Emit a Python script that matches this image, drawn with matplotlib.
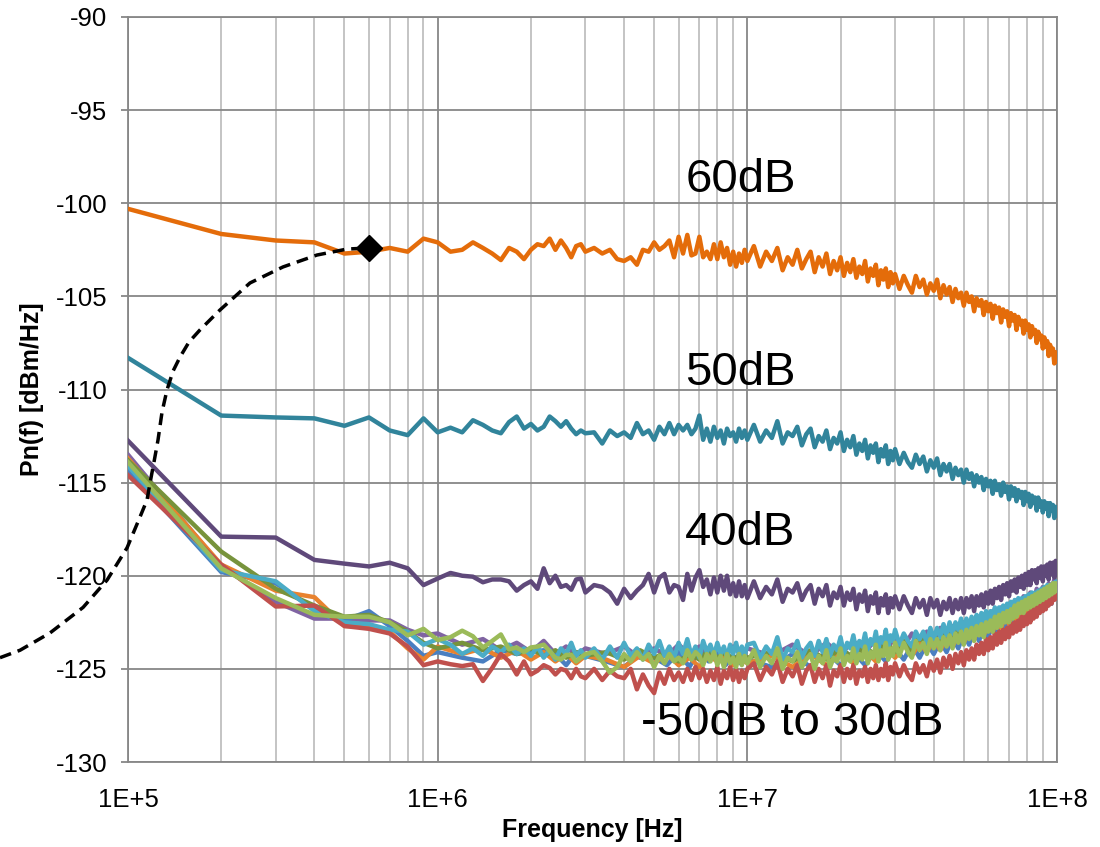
import numpy as np
import matplotlib
matplotlib.use("Agg")
import matplotlib.pyplot as plt
from matplotlib.ticker import FixedLocator, NullFormatter, FixedFormatter

plt.rcParams['font.family'] = ['Liberation Sans', 'DejaVu Sans']

# ---------------- frequency grids (Hz) ----------------
segA = np.arange(1, 11) * 1e5           # 1e5 .. 1e6
segB = np.arange(11, 31) * 1e5          # 1.1e6 .. 3e6
segC = np.arange(32, 101, 2) * 1e5      # 3.2e6 .. 1e7
segD1 = np.arange(105, 301, 5) * 1e5    # 1.05e7 .. 3e7
segD2 = np.arange(31, 101) * 1e6        # 3.1e7 .. 1e8
freq_fine = np.concatenate([segA, segB, segC, segD1, segD2])

cB = np.arange(12, 31, 2) * 1e5
cC = np.arange(35, 101, 5) * 1e5
cD = np.arange(12, 101, 2) * 1e6
freq_coarse = np.concatenate([segA, cB, cC, cD])

# ---------------- series (dBm/Hz) ----------------
pn_60dB = [
    -100.3, -101.65, -102.0, -102.1, -102.7, -102.6, -102.4, -102.6, -101.9, -102.1,
    -102.6, -102.5, -102.1, -102.4, -102.7, -103.05, -102.4, -102.6, -103.0, -102.5,
    -102.2, -102.3, -101.9, -102.5, -102.0, -102.4, -102.9, -102.3, -102.2, -102.6,
    -102.4, -102.7, -102.5, -103.0, -103.1, -102.9, -103.3, -102.5, -102.6, -102.1,
    -102.5, -102.3, -102.0, -102.9, -101.8, -102.7, -101.7, -102.8, -102.7, -101.8,
    -102.9, -102.6, -103.0, -102.2, -103.0, -102.1, -102.9, -102.4, -103.3, -102.6,
    -103.4, -102.7, -103.2, -102.5, -103.1,
    -102.3, -103.4, -102.6, -103.1, -102.4, -103.6, -102.9, -103.3, -102.5, -103.5,
    -103.0, -102.6, -103.7, -102.9, -103.4, -102.7, -103.8, -103.1, -103.6, -102.9,
    -103.9, -103.2, -103.7, -103.0, -104.0, -103.4, -103.8, -103.1, -104.2, -103.5,
    -103.9, -103.3, -104.4, -103.6, -104.1, -103.5, -104.5, -103.7, -104.3, -103.8,
    -104.6, -103.9, -104.4, -104.8, -103.9, -104.5, -104.1, -104.9, -104.3, -104.7,
    -104.1, -105.1, -104.4, -104.9, -104.5, -105.3, -104.6, -105.1, -104.8, -105.5,
    -104.8, -105.3, -105.0, -105.8, -105.1, -105.5, -105.2, -106.0, -105.3, -105.8,
    -105.4, -106.2, -105.5, -105.9, -105.6, -106.4, -105.7, -106.1, -105.8, -106.6,
    -105.9, -106.3, -106.0, -106.8, -106.1, -106.5, -106.3, -107.0, -106.3, -106.8,
    -106.5, -107.2, -106.6, -107.0, -106.8, -107.5, -106.9, -107.3, -107.1, -107.8,
    -107.2, -107.7, -107.4, -108.2, -107.6, -108.1, -107.8, -108.6, -108.0, -108.5,
]

pn_50dB = [
    -108.3, -111.4, -111.5, -111.55, -111.95, -111.5, -112.2, -112.45, -111.55, -112.3,
    -112.05, -112.3, -111.65, -111.9, -112.2, -112.35, -111.75, -111.45, -112.1, -111.85,
    -112.2, -112.0, -111.45, -111.7, -112.0, -111.7, -112.1, -112.4, -112.2, -112.35,
    -112.3, -112.9, -112.2, -112.5, -112.3, -112.6, -111.8, -112.4, -112.2, -112.7,
    -112.0, -112.4, -111.8, -112.4, -111.9, -112.2, -111.9, -112.4, -112.1, -111.4,
    -112.7, -112.1, -112.8, -112.0, -112.6, -112.2, -112.9, -112.1, -112.5, -112.3,
    -112.8, -112.1, -112.6, -112.2, -112.7,
    -111.9, -112.8, -112.2, -112.6, -111.7, -112.9, -112.3, -112.5, -112.0, -113.0,
    -112.4, -112.1, -113.1, -112.5, -112.8, -112.2, -113.2, -112.6, -112.9, -112.3,
    -113.3, -112.7, -113.1, -112.5, -113.5, -112.9, -113.3, -112.7, -113.7, -113.0,
    -113.4, -112.9, -113.9, -113.2, -113.6, -113.0, -114.0, -113.3, -113.8, -113.2,
    -114.0, -113.4, -113.9, -114.2, -113.5, -114.0, -113.6, -114.4, -113.8, -114.2,
    -113.7, -114.6, -114.0, -114.4, -114.0, -114.8, -114.2, -114.6, -114.3, -115.0,
    -114.3, -114.8, -114.5, -115.2, -114.6, -115.0, -114.7, -115.4, -114.8, -115.2,
    -114.9, -115.6, -114.9, -115.4, -115.1, -115.7, -115.0, -115.5, -115.2, -115.9,
    -115.2, -115.7, -115.3, -116.0, -115.4, -115.8, -115.5, -116.2, -115.5, -116.0,
    -115.6, -116.3, -115.7, -116.1, -115.8, -116.5, -115.8, -116.3, -116.0, -116.6,
    -116.0, -116.4, -116.1, -116.8, -116.1, -116.5, -116.2, -116.9, -116.3, -116.5,
]

pn_40dB = [
    -112.75, -117.9, -117.95, -119.15, -119.35, -119.5, -119.3, -119.6, -120.5, -120.15,
    -119.85, -120.0, -120.05, -120.35, -120.2, -120.2, -120.3, -120.8, -120.5, -120.3,
    -120.7, -119.6, -120.4, -120.0, -120.6, -120.5, -120.75, -120.2, -120.15, -120.9,
    -120.5, -120.6, -120.9, -121.5, -120.7, -121.2, -120.8, -120.5, -119.9, -120.9,
    -120.1, -119.9, -120.9, -120.5, -120.6, -121.3, -119.9, -120.8, -120.1, -119.7,
    -120.6, -120.2, -121.0, -120.1, -120.9, -120.0, -120.8, -120.0, -121.0, -120.4,
    -121.1, -120.3, -121.1, -120.5, -121.2,
    -120.3, -121.2, -120.6, -121.0, -120.2, -121.4, -120.7, -120.9, -120.4, -121.3,
    -120.8, -120.5, -121.5, -120.7, -121.1, -120.5, -121.6, -120.9, -121.2, -120.6,
    -121.6, -120.9, -121.3, -120.7, -121.8, -121.0, -121.4, -120.8, -121.9, -121.1,
    -121.5, -120.9, -122.0, -121.2, -121.6, -121.0, -122.0, -121.2, -121.7, -121.1,
    -121.8, -121.1, -121.6, -122.0, -121.2, -121.7, -121.3, -122.1, -121.2, -121.7,
    -121.3, -122.1, -121.4, -121.8, -121.2, -122.0, -121.3, -121.8, -121.2, -122.0,
    -121.2, -121.7, -121.1, -121.9, -121.1, -121.6, -121.0, -121.7, -120.9, -121.5,
    -120.8, -121.5, -120.7, -121.2, -120.6, -121.3, -120.5, -121.0, -120.4, -121.1,
    -120.3, -120.8, -120.2, -120.9, -120.1, -120.6, -120.0, -120.7, -119.9, -120.5,
    -119.8, -120.5, -119.7, -120.2, -119.7, -120.4, -119.6, -120.1, -119.5, -120.3,
    -119.5, -120.0, -119.4, -120.2, -119.3, -119.9, -119.3, -120.1, -119.2, -119.8,
]

# bottom cluster (-50 dB ... 30 dB), fine grid
pn_green = [
    -113.9, -119.6, -121.2, -122.1, -122.2, -122.2, -122.5, -123.2, -122.85, -123.45,
    -123.3, -122.95, -123.25, -123.85, -123.5, -123.15, -123.95, -123.85, -124.1, -123.85,
    -123.8, -123.7, -124.05, -124.4, -124.5, -124.25, -124.25, -124.6, -124.4, -124.2,
    -124.1, -124.6, -125.2, -124.9, -124.2, -124.6, -124.1, -124.5, -124.2, -124.9,
    -124.3, -124.7, -124.2, -124.6, -124.4, -124.7, -124.0, -124.5, -124.1, -124.3,
    -124.8, -124.2, -124.6, -124.1, -124.8, -124.3, -124.9, -124.2, -124.7, -124.4,
    -124.9, -124.2, -124.8, -124.3, -124.7,
    -124.0, -124.9, -124.3, -124.7, -123.9, -125.0, -124.4, -124.6, -124.1, -124.9,
    -124.5, -124.2, -125.0, -124.3, -124.7, -124.0, -124.9, -124.4, -124.6, -123.9,
    -124.8, -124.3, -124.6, -123.9, -124.7, -124.2, -124.5, -123.8, -124.7, -124.1,
    -124.4, -123.7, -124.6, -124.0, -124.3, -123.6, -124.5, -123.9, -124.3, -123.6,
    -124.3, -123.6, -124.1, -124.4, -123.5, -124.0, -123.6, -124.2, -123.4, -123.9,
    -123.4, -124.0, -123.3, -123.8, -123.2, -123.9, -123.1, -123.6, -123.0, -123.7,
    -122.9, -123.4, -122.8, -123.5, -122.7, -123.2, -122.6, -123.3, -122.5, -123.0,
    -122.4, -123.0, -122.2, -122.8, -122.1, -122.7, -122.0, -122.5, -121.9, -122.5,
    -121.8, -122.3, -121.6, -122.2, -121.5, -122.0, -121.4, -122.0, -121.3, -121.8,
    -121.2, -121.7, -121.1, -121.6, -121.0, -121.5, -120.9, -121.4, -120.8, -121.3,
    -120.7, -121.2, -120.6, -121.1, -120.5, -121.0, -120.4, -120.9, -120.4, -120.8,
]

pn_red = [
    -114.6, -119.4, -121.65, -121.6, -122.7, -122.85, -123.1, -123.8, -124.8, -124.6,
    -124.75, -124.85, -124.75, -125.65, -124.95, -124.2, -124.6, -125.3, -124.6, -125.3,
    -125.1, -124.8, -124.95, -125.3, -125.0, -125.1, -125.5, -125.0, -125.4, -125.5,
    -125.0, -125.6, -125.1, -125.4, -125.5, -125.0, -126.1, -125.3, -125.9, -126.3,
    -125.2, -125.8, -125.0, -125.6, -125.2, -125.7, -125.0, -125.6, -124.9, -125.5,
    -125.0, -125.7, -125.1, -125.6, -124.9, -125.8, -125.1, -125.5, -124.9, -125.6,
    -125.0, -125.7, -125.1, -125.5, -125.0,
    -124.7, -125.6, -124.9, -125.3, -124.6, -125.7, -125.0, -125.4, -124.8, -125.8,
    -125.1, -124.8, -125.7, -125.0, -125.5, -124.8, -125.9, -125.1, -125.4, -124.8,
    -125.7, -125.0, -125.5, -124.8, -125.8, -125.1, -125.4, -124.9, -125.7, -125.0,
    -125.5, -124.8, -125.6, -125.0, -125.4, -124.7, -125.6, -124.9, -125.3, -124.7,
    -125.4, -124.8, -125.3, -125.6, -124.7, -125.2, -124.8, -125.4, -124.6, -125.1,
    -124.5, -125.2, -124.4, -124.9, -124.3, -125.0, -124.2, -124.7, -124.1, -124.8,
    -124.0, -124.5, -123.9, -124.5, -123.7, -124.2, -123.6, -124.2, -123.4, -124.0,
    -123.3, -123.9, -123.1, -123.7, -123.0, -123.6, -122.9, -123.4, -122.8, -123.3,
    -122.6, -123.1, -122.5, -123.0, -122.4, -122.9, -122.2, -122.7, -122.1, -122.6,
    -122.0, -122.5, -121.8, -122.3, -121.7, -122.2, -121.6, -122.0, -121.4, -121.9,
    -121.3, -121.8, -121.2, -121.6, -121.0, -121.5, -120.9, -121.3, -120.8, -121.2,
]

pn_aqua = [
    -114.1, -119.7, -120.3, -121.9, -122.5, -122.6, -122.9, -123.0, -123.7, -123.4,
    -123.7, -124.2, -123.9, -124.3, -123.8, -124.1, -123.7, -124.2, -123.9, -124.3,
    -123.8, -124.4, -124.0, -124.5, -123.9, -124.2, -123.6, -124.3, -124.0, -124.4,
    -123.9, -124.5, -123.8, -124.4, -123.6, -124.3, -123.9, -124.5, -123.7, -124.2,
    -123.5, -124.3, -123.8, -124.4, -123.6, -124.2, -123.4, -124.3, -123.8, -124.4,
    -123.5, -124.1, -123.7, -124.3, -123.6, -124.2, -123.8, -124.4, -123.7, -124.2,
    -123.6, -124.3, -123.8, -124.3, -123.7,
    -123.6, -124.4, -123.8, -124.2, -123.3, -124.5, -123.9, -124.1, -123.5, -124.4,
    -123.9, -123.6, -124.3, -123.5, -124.1, -123.4, -124.3, -123.7, -124.0, -123.3,
    -124.2, -123.6, -123.9, -123.2, -124.1, -123.5, -123.8, -123.1, -124.0, -123.4,
    -123.7, -123.0, -123.9, -123.3, -123.6, -122.9, -123.8, -123.2, -123.5, -122.9,
    -123.7, -123.1, -123.5, -123.8, -123.0, -123.4, -123.0, -123.6, -122.8, -123.4,
    -122.8, -123.3, -122.6, -123.2, -122.5, -123.1, -122.5, -122.9, -122.3, -123.0,
    -122.3, -122.8, -122.2, -122.8, -122.1, -122.6, -122.0, -122.6, -121.9, -122.5,
    -121.9, -122.4, -121.7, -122.3, -121.7, -122.2, -121.6, -122.1, -121.5, -122.0,
    -121.4, -121.9, -121.3, -121.9, -121.2, -121.7, -121.2, -121.7, -121.1, -121.6,
    -121.0, -121.5, -120.9, -121.4, -120.9, -121.3, -120.8, -121.3, -120.7, -121.2,
    -120.6, -121.1, -120.5, -121.0, -120.5, -120.9, -120.4, -120.9, -120.3, -120.8,
]

# bottom cluster, coarse grid
pn_blue = [
    -114.3, -119.8, -120.4, -121.8, -122.4, -121.9, -122.7, -123.5, -124.3, -124.1,
    -124.4, -124.6, -124.0, -124.2, -124.1, -124.0, -124.2, -124.8, -124.1, -124.3,
    -124.6, -124.9, -124.2, -124.4, -124.8, -124.1, -124.9, -124.0, -124.6, -124.2,
    -124.8, -124.3, -124.7, -124.5,
    -124.9, -124.2, -124.9, -124.1, -124.8, -124.1, -124.8, -124.0, -124.6, -123.9,
    -124.5, -123.7, -124.4, -123.6, -124.2, -123.5, -124.1, -123.3, -123.9, -123.1,
    -123.7, -122.9, -123.5, -122.7, -123.3, -122.5, -123.1, -122.3, -122.9, -122.1,
    -122.7, -121.9, -122.5, -121.7, -122.3, -121.5, -122.1, -121.3, -121.9, -121.1,
    -121.7, -120.9, -121.5, -120.8, -121.1,
]

pn_orange = [
    -113.7, -119.4, -120.8, -121.15, -122.7, -122.7, -123.0, -123.9, -124.5, -123.8,
    -124.2, -123.9, -124.4, -124.0, -124.5, -124.1, -124.6, -124.2, -124.7, -124.3,
    -124.5, -124.9, -124.3, -124.7, -124.2, -124.8, -124.4, -124.9, -124.3, -124.6,
    -124.2, -124.8, -124.4, -124.7,
    -124.3, -124.9, -124.2, -124.8, -124.1, -124.7, -124.0, -124.6, -123.9, -124.4,
    -123.7, -124.3, -123.6, -124.1, -123.4, -124.0, -123.3, -123.8, -123.1, -123.6,
    -122.9, -123.4, -122.7, -123.2, -122.5, -123.0, -122.3, -122.8, -122.1, -122.6,
    -121.9, -122.4, -121.7, -122.2, -121.5, -122.0, -121.3, -121.8, -121.1, -121.6,
    -120.9, -121.4, -120.8, -121.2, -120.9,
]

pn_olive = [
    -113.8, -118.7, -120.7, -121.6, -122.2, -122.1, -122.5, -123.0, -123.6, -123.9,
    -123.6, -124.0, -123.8, -124.2, -123.9, -124.3, -124.0, -124.4, -124.1, -124.3,
    -124.1, -124.5, -124.0, -124.4, -124.1, -124.6, -124.2, -124.5, -124.0, -124.4,
    -124.1, -124.5, -124.2, -124.4,
    -124.1, -124.6, -124.0, -124.5, -123.9, -124.4, -123.8, -124.3, -123.6, -124.1,
    -123.5, -124.0, -123.3, -123.8, -123.2, -123.7, -123.0, -123.5, -122.9, -123.3,
    -122.7, -123.1, -122.5, -122.9, -122.3, -122.7, -122.1, -122.5, -121.9, -122.3,
    -121.7, -122.1, -121.5, -121.9, -121.3, -121.7, -121.1, -121.5, -120.9, -121.3,
    -120.7, -121.1, -120.5, -120.9, -120.6,
]

pn_lilac = [
    -113.5, -119.5, -121.4, -122.3, -122.3, -122.4, -122.4, -122.9, -123.2, -123.1,
    -123.7, -123.4, -124.0, -123.6, -124.1, -123.5, -124.2, -123.8, -124.3, -123.9,
    -124.2, -123.8, -124.4, -123.9, -124.3, -123.7, -124.2, -123.8, -124.4, -123.9,
    -124.3, -123.8, -124.2, -123.9,
    -124.3, -123.7, -124.3, -123.6, -124.2, -123.5, -124.1, -123.4, -124.0, -123.3,
    -123.8, -123.1, -123.7, -123.0, -123.5, -122.8, -123.4, -122.7, -123.2, -122.5,
    -123.0, -122.3, -122.8, -122.1, -122.6, -121.9, -122.4, -121.7, -122.2, -121.5,
    -122.0, -121.3, -121.8, -121.1, -121.6, -120.9, -121.4, -120.7, -121.2, -120.6,
    -121.0, -120.4, -120.8, -120.2, -120.5,
]

# dashed guide curve and its marker
curve_f = [3.86e4, 4.48e4, 5.60e4, 7.16e4, 8.56e4, 9.93e4, 1.093e5, 1.152e5, 1.178e5,
           1.213e5, 1.250e5, 1.288e5, 1.336e5, 1.398e5, 1.472e5, 1.574e5, 1.708e5,
           1.982e5, 2.477e5, 3.166e5, 4.076e5, 5.095e5, 6.0e5]
curve_db = [-124.4, -124.0, -123.07, -121.7, -120.23, -118.5, -116.85, -115.93, -115.02,
            -113.9, -112.71, -111.21, -110.03, -109.01, -108.26, -107.45, -106.8,
            -105.73, -104.28, -103.42, -102.78, -102.46, -102.4]
marker_f = [6.0e5]
marker_db = [-102.4]

xtick_vals = [1e5, 1e6, 1e7, 1e8]
xtick_labels = ['1E+5', '1E+6', '1E+7', '1E+8']
ytick_vals = [-130, -125, -120, -115, -110, -105, -100, -95, -90]

labels = ['60dB', '50dB', '40dB', '-50dB to 30dB']
label_f = [6.3e6, 6.3e6, 6.3e6, 4.55e6]
label_db = [-99.4, -109.75, -118.35, -128.55]

# ---------------- drawing ----------------
fig = plt.figure(figsize=(11, 8.47), dpi=100)
ax = fig.add_axes([128 / 1100, 1 - 762 / 847, (1057 - 128) / 1100, (762 - 17) / 847])

lw = 3.2
coarse_series = [(pn_lilac, '#8064A2'), (pn_blue, '#4A7FC1'), (pn_orange, '#E8822F'),
                 (pn_olive, '#77933C')]
for vals, col in coarse_series:
    ax.plot(freq_coarse, vals, color=col, lw=lw, solid_joinstyle='round', zorder=3)
fine_series = [(pn_aqua, '#4BACC6'), (pn_red, '#C0504D'), (pn_green, '#9BBB59'),
               (pn_40dB, '#5F497A'), (pn_50dB, '#31849B'), (pn_60dB, '#E46C0A')]
for vals, col in fine_series:
    ax.plot(freq_fine, vals, color=col, lw=lw, solid_joinstyle='round', zorder=3)

ax.plot(curve_f, curve_db, color='black', lw=2.5, dashes=(3.4, 2.0), clip_on=False, zorder=5)
ax.plot(marker_f, marker_db, marker='D', ms=13, color='black', ls='none', clip_on=False, zorder=6)

for t, fx, fy in zip(labels, label_f, label_db):
    ax.text(fx, fy, t, fontsize=34, ha='left', va='baseline', color='black', zorder=7)

ax.set_xscale('log')
ax.set_xlim(1e5, 1e8)
ax.set_ylim(-130, -90)
ax.xaxis.set_major_locator(FixedLocator(xtick_vals))
ax.xaxis.set_major_formatter(FixedFormatter(xtick_labels))
minor = [m * d for d in [1e5, 1e6, 1e7] for m in range(2, 10)]
ax.xaxis.set_minor_locator(FixedLocator(minor))
ax.xaxis.set_minor_formatter(NullFormatter())
ax.set_yticks(ytick_vals)
ax.set_yticklabels([str(v) for v in ytick_vals])

grid_major = '#878787'
grid_minor = '#BFBFBF'
ax.grid(which='major', color=grid_major, lw=1.3)
ax.grid(which='minor', axis='x', color=grid_minor, lw=1.3)
ax.set_axisbelow(True)
for s in ax.spines.values():
    s.set_color(grid_major)
    s.set_linewidth(1.3)

ax.tick_params(axis='y', which='major', length=5, width=1.3, color=grid_major,
               direction='out', labelsize=18.5, pad=10)
ax.tick_params(axis='x', which='both', length=0, labelsize=18.5, pad=19)

ax.set_xlabel('Frequency [Hz]', fontsize=18, fontweight='bold', labelpad=4)
ax.set_ylabel('Pn(f) [dBm/Hz]', fontsize=18, fontweight='bold', labelpad=8)

fig.savefig('out.png', dpi=100)
